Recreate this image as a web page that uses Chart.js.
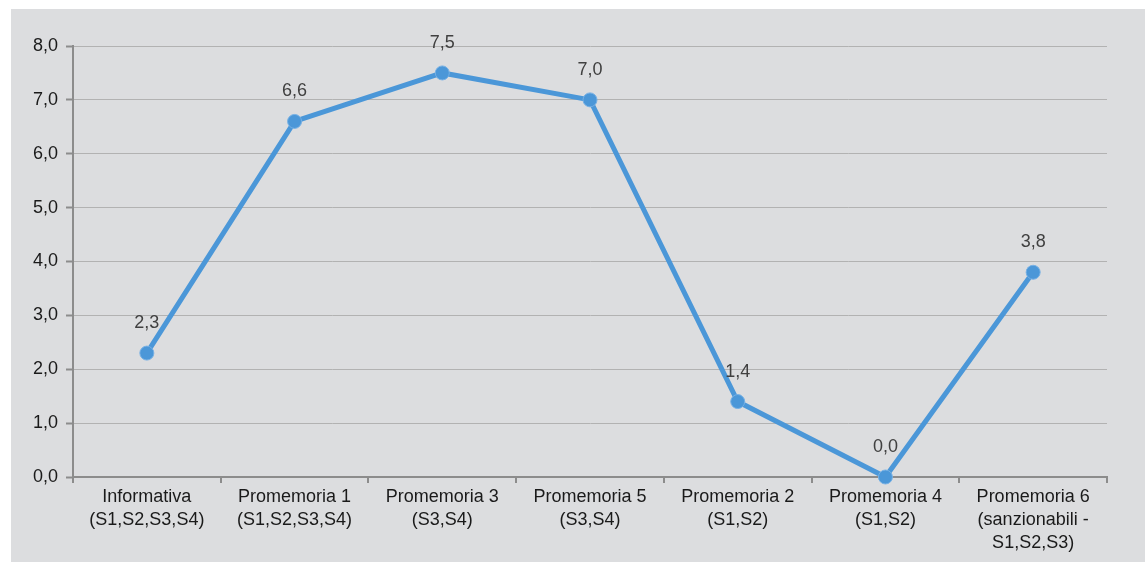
<!DOCTYPE html>
<html>
<head>
<meta charset="utf-8">
<script src="https://cdn.jsdelivr.net/npm/chart.js@4/dist/chart.umd.min.js"></script>
<style>
  html, body { margin: 0; padding: 0; background: #ffffff; }
  #wrap { position: absolute; left: 11px; top: 9px; width: 1134px; height: 553px; background: #dcdddf; }
  canvas { display: block; }
</style>
</head>
<body>
<div id="wrap"><canvas id="c" width="1134" height="553"></canvas></div>
<script>
const categories = [
  ["Informativa", "(S1,S2,S3,S4)"],
  ["Promemoria 1", "(S1,S2,S3,S4)"],
  ["Promemoria 3", "(S3,S4)"],
  ["Promemoria 5", "(S3,S4)"],
  ["Promemoria 2", "(S1,S2)"],
  ["Promemoria 4", "(S1,S2)"],
  ["Promemoria 6", "(sanzionabili -", "S1,S2,S3)"]
];
const values = [2.3, 6.6, 7.5, 7.0, 1.4, 0.0, 3.8];
const yTicks = [0, 1, 2, 3, 4, 5, 6, 7, 8];

const fmt = v => v.toFixed(1).replace('.', ',');
const FONT = "'Liberation Sans', Arial, sans-serif";

// Writes each point's value just above its marker
const valueLabels = {
  id: 'valueLabels',
  afterDatasetsDraw(chart) {
    const ctx = chart.ctx;
    const meta = chart.getDatasetMeta(0);
    ctx.save();
    ctx.font = "18px " + FONT;
    ctx.fillStyle = '#404040';
    ctx.textAlign = 'center';
    ctx.textBaseline = 'middle';
    meta.data.forEach((pt, i) => {
      ctx.fillText(fmt(values[i]), pt.x, pt.y - 30);
    });
    ctx.restore();
  }
};

new Chart(document.getElementById('c'), {
  type: 'line',
  data: {
    labels: categories,
    datasets: [{
      data: values,
      borderColor: '#4b97d8',
      borderWidth: 5,
      pointRadius: 7,
      pointHoverRadius: 7,
      pointBackgroundColor: '#4b97d8',
      pointBorderColor: '#76b0e4',
      pointBorderWidth: 1,
      tension: 0,
      clip: false
    }]
  },
  options: {
    responsive: false,
    animation: false,
    events: [],
    layout: { padding: { top: 37, right: 38, left: 0, bottom: 0 } },
    plugins: { legend: { display: false }, tooltip: { enabled: false } },
    scales: {
      x: {
        offset: true,
        afterFit(scale) { scale.height = 85; },
        grid: {
          offset: true,
          drawOnChartArea: false,
          drawTicks: true,
          tickLength: 6,
          color: '#8c8c8c',
          lineWidth: 2
        },
        border: { color: '#8c8c8c', width: 2 },
        ticks: {
          color: '#1a1a1a',
          font: { family: FONT, size: 18, lineHeight: 1.27 },
          padding: 3,
          maxRotation: 0,
          autoSkip: false
        }
      },
      y: {
        min: 0,
        max: 8,
        afterFit(scale) { scale.width = 62; },
        afterBuildTicks(scale) { scale.ticks = yTicks.map(v => ({ value: v })); },
        grid: {
          color: '#b2b2b2',
          lineWidth: 1,
          drawTicks: true,
          tickLength: 7,
          tickColor: '#8c8c8c',
          tickWidth: 2
        },
        border: { color: '#8c8c8c', width: 2 },
        ticks: {
          color: '#1a1a1a',
          font: { family: FONT, size: 18 },
          padding: 8,
          callback: v => fmt(v)
        }
      }
    }
  },
  plugins: [valueLabels]
});
</script>
</body>
</html>
